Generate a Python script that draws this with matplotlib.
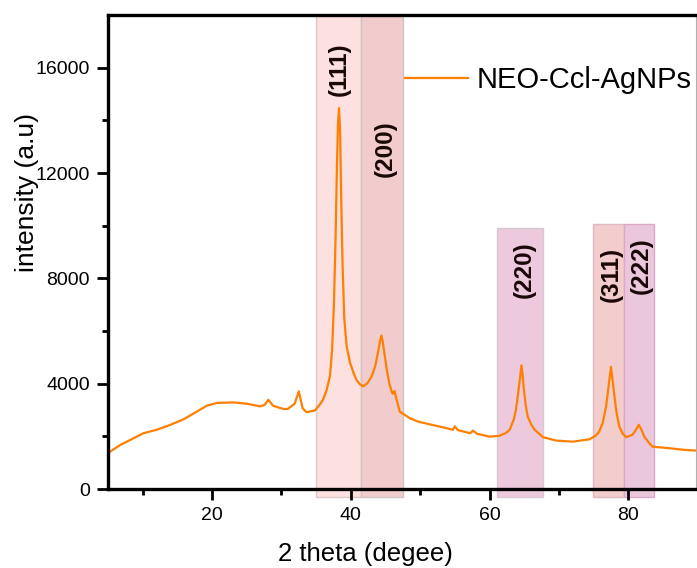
"""XRD pattern of NEO-Ccl-AgNPs with the indexed Ag reflections shaded."""
import matplotlib

matplotlib.use("Agg")
import matplotlib.pyplot as plt

plt.rcParams["font.family"] = ["Liberation Sans", "DejaVu Sans"]

# diffractogram (2theta in degrees, counts)
two_theta = [
    5.0, 5.3, 6.8, 8.7, 10.1, 12.0, 14.0, 15.9, 17.8, 19.2, 20.7, 23.1, 25.0,
    26.9, 27.6, 28.1, 28.8, 30.3, 30.9, 31.9, 32.5, 33.05, 33.6, 34.8, 35.5,
    36.0, 36.5, 37.0, 37.3, 37.55, 37.8, 38.0, 38.15, 38.3, 38.45, 38.6, 38.8,
    39.05, 39.4, 39.9, 40.4, 40.8, 41.3, 41.8, 42.4, 43.0, 43.5, 43.9, 44.2,
    44.4, 44.6, 44.9, 45.2, 45.6, 46.0, 46.3, 46.5, 47.05, 48.5, 49.7, 52.0,
    53.5, 54.7, 55.0, 55.4, 57.2, 57.6, 58.2, 60.0, 61.4, 62.3, 62.9, 63.5,
    63.8, 64.1, 64.3, 64.6, 64.8, 64.9, 65.2, 65.5, 66.0, 66.5, 67.7, 69.6,
    72.0, 74.4, 75.3, 75.8, 76.3, 76.8, 77.2, 77.5, 77.75, 78.0, 78.3, 78.7,
    79.2, 79.7, 80.6, 81.1, 81.5, 81.9, 82.3, 83.0, 83.5, 85.9, 88.0, 89.8,
]
intensity = [
    1371, 1420, 1680, 1930, 2120, 2250, 2440, 2650, 2940, 3160, 3270, 3290, 3240,
    3140, 3200, 3390, 3160, 3040, 3040, 3240, 3710, 3070, 2920, 2980, 3200,
    3390, 3750, 4300, 5300, 6900, 9500, 12300, 13900, 14460, 13600, 11200, 8600,
    6500, 5400, 4790, 4400, 4150, 3980, 3900, 4020, 4280, 4650, 5170, 5600,
    5830, 5600, 5040, 4500, 3950, 3620, 3720, 3500, 2940, 2690, 2560, 2420,
    2330, 2250, 2380, 2240, 2120, 2220, 2100, 1990, 2020, 2120, 2250, 2650,
    3010, 3600, 4030, 4700, 4250, 3900, 3200, 2750, 2450, 2250, 1970, 1840,
    1800, 1890, 2030, 2180, 2500, 3140, 4000, 4640, 4100, 3520, 2900, 2370,
    2100, 1970, 2060, 2250, 2440, 2250, 1990, 1750, 1610, 1550, 1490, 1460,
]

# shaded reflection windows: (hkl), 2theta range, height of the band, label position
planes = ["(111)", "(200)", "(220)", "(311)", "(222)"]
band_lo = [35.0, 41.4, 61.05, 74.9, 79.35]
band_hi = [41.4, 47.5, 67.65, 79.35, 83.65]
band_top = [18000, 18000, 9900, 10050, 10050]
label_x = [38.3, 44.9, 65.0, 77.5, 81.8]
label_y = [15960, 12930, 8340, 8150, 8470]
band_colors = ["#fde0e0", "#f2cccc", "#ecc9dd", "#f2cdcb", "#ebc7dc"]
band_edges = ["#dcc8c8", "#cfc4c4", "#d8c8d0", "#e0b8c0", "#dca8c8"]

fig = plt.figure(figsize=(6.97, 5.68), dpi=100)
ax = fig.add_axes([0.155, 0.139, 0.843, 0.8346])

base = -300
for lo, hi, top, fc, ec in zip(band_lo, band_hi, band_top, band_colors, band_edges):
    ax.bar(lo, top - base, width=hi - lo, bottom=base, align="edge",
           color=fc, edgecolor=ec, linewidth=1.0, zorder=1, clip_on=False)

ax.plot(two_theta, intensity, color="#ff7f00", linewidth=1.6, zorder=3,
        label="NEO-Ccl-AgNPs")

for name, x, y in zip(planes, label_x, label_y):
    ax.text(x, y, name, rotation=90, ha="center", va="center",
            fontsize=17.5, fontweight="bold", color="#1a0808", zorder=4)

ax.set_xlim(5, 89.7)
ax.set_ylim(0, 18000)
ax.set_xticks([20, 40, 60, 80])
ax.set_xticks([10, 30, 50, 70], minor=True)
ax.set_yticks([0, 4000, 8000, 12000, 16000])
ax.set_yticks([2000, 6000, 10000, 14000], minor=True)
ax.tick_params(which="major", direction="out", length=8, width=2,
               labelsize=14, pad=5)
ax.tick_params(which="minor", direction="out", length=4, width=2)

for side in ("left", "bottom", "top"):
    ax.spines[side].set_linewidth(2.4)
    ax.spines[side].set_zorder(5)
ax.spines["right"].set_linewidth(0.8)
ax.spines["right"].set_color("#b0b0b0")

ax.set_xlabel("2 theta (degee)", fontsize=18.5)
ax.set_ylabel("intensity (a.u)", fontsize=19)
ax.xaxis.set_label_coords(0.438, -0.112)
ax.yaxis.set_label_coords(-0.118, 0.625)

ax.legend(loc="center left", bbox_to_anchor=(0.506, 0.863), frameon=False,
          fontsize=21, handlelength=2.15, handletextpad=0.3,
          borderpad=0, borderaxespad=0)

fig.savefig("out.png", dpi=100)
